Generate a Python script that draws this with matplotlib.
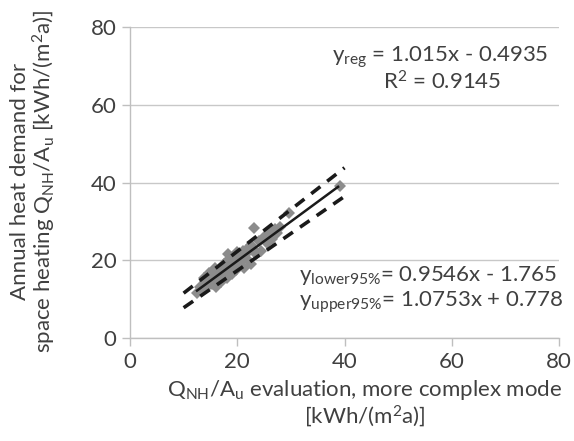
import matplotlib
matplotlib.use("Agg")
import matplotlib.pyplot as plt
import numpy as np

plt.rcParams['font.family'] = ['Lato', 'DejaVu Sans']
plt.rcParams['mathtext.fontset'] = 'custom'
plt.rcParams['mathtext.rm'] = 'Lato'
plt.rcParams['mathtext.it'] = 'Lato:italic'
plt.rcParams['mathtext.bf'] = 'Lato:bold'

x_vals = [12.5, 13.0, 13.5, 14.0, 14.5, 15.0, 15.2, 15.5, 16.0, 16.0, 16.5, 16.8, 17.0, 17.0,
          17.3, 17.5, 17.8, 18.0, 18.0, 18.3, 18.5, 18.7, 19.0, 19.0, 19.2, 19.5, 19.5, 19.8,
          20.0, 20.0, 20.3, 20.5, 20.7, 21.0, 21.0, 21.3, 21.5, 21.8, 22.0, 22.0, 22.5, 22.5,
          23.0, 23.2, 23.5, 24.0, 24.5, 25.0, 25.5, 26.0, 26.5, 27.0, 27.5, 28.0, 29.7, 39.1,
          15.8, 14.8, 13.8, 18.2]
y_vals = [11.5, 13.0, 12.2, 14.5, 13.5, 15.5, 14.0, 16.5, 15.0, 13.0, 17.0, 15.8, 18.0, 14.5,
          16.5, 19.0, 17.2, 15.5, 18.5, 20.0, 17.0, 19.0, 16.5, 20.5, 18.0, 21.0, 19.5, 17.5,
          20.0, 22.0, 18.5, 21.0, 19.5, 22.5, 20.5, 18.0, 21.5, 23.0, 20.0, 22.0, 24.0, 19.0,
          23.0, 28.3, 21.5, 25.0, 22.5, 26.0, 24.5, 27.0, 25.5, 28.0, 27.0, 28.5, 32.1, 39.1,
          18.0, 16.8, 15.5, 21.5]

reg_coef = (1.015, -0.4935)
lower_coef = (0.9546, -1.765)
upper_coef = (1.0753, 0.778)
reg_range = (12.5, 38.8)
band_range = (10.0, 40.0)

text_color = '#404040'
fs = 16

fig = plt.figure(figsize=(5.74, 4.41), dpi=100)
ax = fig.add_axes([130/574, 1 - 338/441, (559-130)/574, (338-27)/441])

ax.plot(x_vals, y_vals, linestyle='none', marker='D', markersize=6,
        color='#8c8c8c', markeredgewidth=0, zorder=3)

xr = np.array(reg_range)
ax.plot(xr, reg_coef[0]*xr + reg_coef[1], color='#1a1a1a', lw=1.8, zorder=4)
xb = np.array(band_range)
for a, b in (lower_coef, upper_coef):
    ax.plot(xb, a*xb + b, color='#1a1a1a', lw=2.6, linestyle=(0, (3.2, 2.4)), zorder=4)

ax.set_xlim(0, 80)
ax.set_ylim(0, 80)
ax.set_xticks([0, 20, 40, 60, 80])
ax.set_yticks([0, 20, 40, 60, 80])
ax.yaxis.grid(True, color='#c8c8c8', lw=1.0)
ax.set_axisbelow(True)
for s in ('top', 'right'):
    ax.spines[s].set_visible(False)
for s in ('left', 'bottom'):
    ax.spines[s].set_color('#bfbfbf')
    ax.spines[s].set_linewidth(1.0)
ax.tick_params(axis='both', colors='#bfbfbf', labelcolor=text_color, labelsize=fs,
               length=5.8, width=1.0, pad=4)

fig.text(365/574, 1 - 378/441,
         'Q$_{\\mathrm{NH}}$/A$_{\\mathrm{u}}$ evaluation, more complex mode\n[kWh/(m$^{2}$a)]',
         ha='center', va='top', fontsize=fs, color=text_color, linespacing=1.05)
fig.text(34/574, 1 - 181/441,
         'Annual heat demand for\nspace heating Q$_{\\mathrm{NH}}$/A$_{\\mathrm{u}}$ [kWh/(m$^{2}$a)]',
         ha='center', va='center', rotation=90, fontsize=fs, color=text_color, linespacing=1.05)

ax.text(78.0, 72.3, 'y$_{\\mathrm{reg}}$ = 1.015x - 0.4935', ha='right', va='center',
        fontsize=fs, color=text_color)
ax.text(58.2, 66.0, 'R$^{2}$ = 0.9145', ha='center', va='center',
        fontsize=fs, color=text_color)
ax.text(31.5, 16.2, 'y$_{\\mathrm{lower95\\%}}$= 0.9546x - 1.765', ha='left', va='center',
        fontsize=fs, color=text_color)
ax.text(31.5, 9.3, 'y$_{\\mathrm{upper95\\%}}$= 1.0753x + 0.778', ha='left', va='center',
        fontsize=fs, color=text_color)

fig.savefig('out.png', dpi=100)
